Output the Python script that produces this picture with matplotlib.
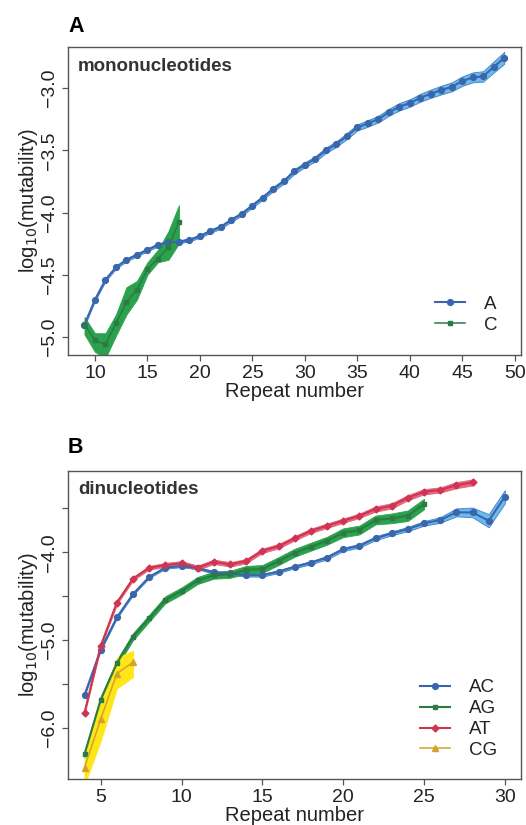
import matplotlib
matplotlib.use("Agg")
import matplotlib.pyplot as plt
import numpy as np

plt.rcParams['font.family'] = ['Liberation Sans', 'DejaVu Sans']

# ---------------- Panel A: mononucleotides ----------------
a_x = list(range(9, 50))
a_y = [-4.90, -4.70, -4.54, -4.44, -4.38, -4.34, -4.30, -4.26, -4.24, -4.235,
       -4.22, -4.19, -4.15, -4.115, -4.06, -4.01, -3.945, -3.88, -3.81, -3.75,
       -3.67, -3.616, -3.568, -3.50, -3.45, -3.386, -3.316, -3.284, -3.249, -3.195,
       -3.15, -3.12, -3.078, -3.045, -3.016, -2.99, -2.944, -2.914, -2.906, -2.83,
       -2.757]
a_err = [0.012, 0.012, 0.012, 0.012, 0.012, 0.012, 0.012, 0.012, 0.012, 0.012,
         0.012, 0.012, 0.014, 0.014, 0.014, 0.015, 0.016, 0.017, 0.018, 0.018,
         0.02, 0.02, 0.021, 0.022, 0.023, 0.024, 0.025, 0.026, 0.027, 0.028,
         0.03, 0.03, 0.032, 0.033, 0.035, 0.036, 0.038, 0.04, 0.042, 0.045,
         0.048]

c_x = list(range(9, 19))
c_y = [-4.90, -5.025, -5.06, -4.89, -4.72, -4.62, -4.455, -4.37, -4.28, -4.075]
c_lo = [-4.98, -5.12, -5.17, -4.99, -4.82, -4.70, -4.50, -4.40, -4.38, -4.25]
c_hi = [-4.84, -4.97, -4.97, -4.82, -4.60, -4.55, -4.40, -4.30, -4.15, -3.94]

# ---------------- Panel B: dinucleotides ----------------
ac_x = list(range(4, 31))
ac_y = [-5.624, -5.11, -4.74, -4.475, -4.28, -4.175, -4.156, -4.18, -4.228, -4.24,
        -4.26, -4.26, -4.22, -4.164, -4.118, -4.06, -3.966, -3.925, -3.84, -3.784,
        -3.735, -3.67, -3.632, -3.545, -3.545, -3.64, -3.367]
ac_err = [0.012, 0.012, 0.012, 0.012, 0.012, 0.012, 0.012, 0.014, 0.014, 0.014,
          0.016, 0.016, 0.016, 0.016, 0.018, 0.02, 0.02, 0.02, 0.022, 0.022,
          0.024, 0.026, 0.032, 0.045, 0.055, 0.075, 0.075]

ag_x = list(range(4, 26))
ag_y = [-6.30, -5.68, -5.263, -4.96, -4.75, -4.54, -4.44, -4.32, -4.26, -4.25,
        -4.20, -4.19, -4.10, -4.005, -3.936, -3.868, -3.777, -3.746, -3.632, -3.613,
        -3.583, -3.45]
ag_err = [0.04, 0.04, 0.04, 0.04, 0.04, 0.04, 0.04, 0.04, 0.04, 0.04,
          0.045, 0.045, 0.045, 0.045, 0.045, 0.045, 0.05, 0.05, 0.05, 0.055,
          0.06, 0.06]

at_x = list(range(4, 29))
at_y = [-5.826, -5.066, -4.573, -4.30, -4.175, -4.145, -4.125, -4.175, -4.107, -4.137,
        -4.10, -3.982, -3.93, -3.84, -3.755, -3.697, -3.64, -3.583, -3.507, -3.47,
        -3.378, -3.31, -3.29, -3.235, -3.204]
at_err = [0.02, 0.02, 0.02, 0.02, 0.02, 0.025, 0.025, 0.025, 0.025, 0.025,
          0.025, 0.025, 0.025, 0.025, 0.025, 0.025, 0.025, 0.025, 0.03, 0.03,
          0.03, 0.03, 0.03, 0.035, 0.035]

cg_x = [4, 5, 6, 7]
cg_y = [-6.45, -5.90, -5.38, -5.25]
cg_lo = [-6.65, -6.15, -5.55, -5.42]
cg_hi = [-6.28, -5.70, -5.20, -5.12]

# colours
BLUE_L, BLUE_F, BLUE_E = '#3a66ab', '#6cb9ec', '#3f80c4'
GREEN_L, GREEN_F = '#2c7a45', '#2aa24c'
RED_L, RED_F = '#cf3551', '#e4667f'
YEL_L, YEL_F = '#d4a12a', '#ffe619'

fig = plt.figure(figsize=(5.26, 8.25), dpi=100)
axA = fig.add_axes([0.1293, 0.5697, 0.8612, 0.3733])
axB = fig.add_axes([0.1293, 0.0558, 0.8612, 0.3737])


def band(ax, x, lo, hi, fc, ec, lw=0.6):
    ax.fill_between(x, lo, hi, facecolor=fc, edgecolor=ec, linewidth=lw, zorder=2)


def series(ax, x, y, lc, marker, label, ms=4.2, lw=1.5):
    ax.plot(x, y, color=lc, marker=marker, markersize=ms, linewidth=lw,
            label=label, zorder=3)


# Panel A
band(axA, a_x, np.array(a_y) - np.array(a_err), np.array(a_y) + np.array(a_err), BLUE_F, BLUE_E)
band(axA, c_x, c_lo, c_hi, GREEN_F, GREEN_F)
series(axA, a_x, a_y, BLUE_L, 'o', 'A')
series(axA, c_x, c_y, GREEN_L, 's', 'C', ms=3.5, lw=1.1)

# Panel B
band(axB, ac_x, np.array(ac_y) - np.array(ac_err), np.array(ac_y) + np.array(ac_err), BLUE_F, BLUE_E)
band(axB, ag_x, np.array(ag_y) - np.array(ag_err), np.array(ag_y) + np.array(ag_err), GREEN_F, GREEN_F)
band(axB, at_x, np.array(at_y) - np.array(at_err), np.array(at_y) + np.array(at_err), RED_F, RED_F)
band(axB, cg_x, cg_lo, cg_hi, YEL_F, YEL_F)
series(axB, ac_x, ac_y, BLUE_L, 'o', 'AC')
series(axB, ag_x, ag_y, GREEN_L, 's', 'AG', ms=3.5)
series(axB, at_x, at_y, RED_L, 'D', 'AT', ms=3.5)
series(axB, cg_x, cg_y, YEL_L, '^', 'CG', ms=4.2, lw=1.1)

# axes styling
for ax in (axA, axB):
    for s in ax.spines.values():
        s.set_color('#555555')
        s.set_linewidth(1.0)
    ax.tick_params(axis='both', direction='out', length=4, width=0.9,
                   color='#555555', labelsize=14, labelcolor='#222222', pad=3)
    ax.set_xlabel('Repeat number', fontsize=14.5, color='#222222', labelpad=0)
    ax.set_ylabel('log$_{10}$(mutability)', fontsize=14.5, color='#222222', labelpad=1)

axA.set_xlim(7.43, 50.6)
axA.set_ylim(-5.145, -2.67)
axA.set_xticks([10, 15, 20, 25, 30, 35, 40, 45, 50])
axA.set_yticks([-5.0, -4.5, -4.0, -3.5, -3.0])
axA.set_yticklabels(['\u22125.0', '\u22124.5', '\u22124.0', '\u22123.5', '\u22123.0'],
                    rotation=90, va='center')

axB.set_xlim(2.98, 31.0)
axB.set_ylim(-6.58, -3.07)
axB.set_xticks([5, 10, 15, 20, 25, 30])
axB.set_yticks([-6.0, -5.5, -5.0, -4.5, -4.0, -3.5])
axB.set_yticklabels(['\u22126.0', '', '\u22125.0', '', '\u22124.0', ''],
                    rotation=90, va='center')

axA.text(0.022, 0.965, 'mononucleotides', transform=axA.transAxes, fontsize=13.5,
         fontweight='bold', color='#333333', va='top', ha='left')
axB.text(0.022, 0.965, 'dinucleotides', transform=axB.transAxes, fontsize=13.5,
         fontweight='bold', color='#333333', va='top', ha='left')

fig.text(68 / 526, 1 - 26 / 825, 'A', fontsize=15.5, fontweight='bold', va='center', ha='left')
fig.text(68 / 526, 1 - 447 / 825, 'B', fontsize=15.5, fontweight='bold', va='center', ha='left')

legA = axA.legend(loc='lower right', bbox_to_anchor=(0.985, 0.015), frameon=False,
                  fontsize=13.5, handlelength=1.6, handletextpad=1.0, labelspacing=0.2)
legB = axB.legend(loc='lower right', bbox_to_anchor=(0.985, 0.01), frameon=False,
                  fontsize=13.5, handlelength=1.6, handletextpad=1.0, labelspacing=0.2)
for leg in (legA, legB):
    for t in leg.get_texts():
        t.set_color('#222222')

fig.savefig('out.png', dpi=100, facecolor='white')
